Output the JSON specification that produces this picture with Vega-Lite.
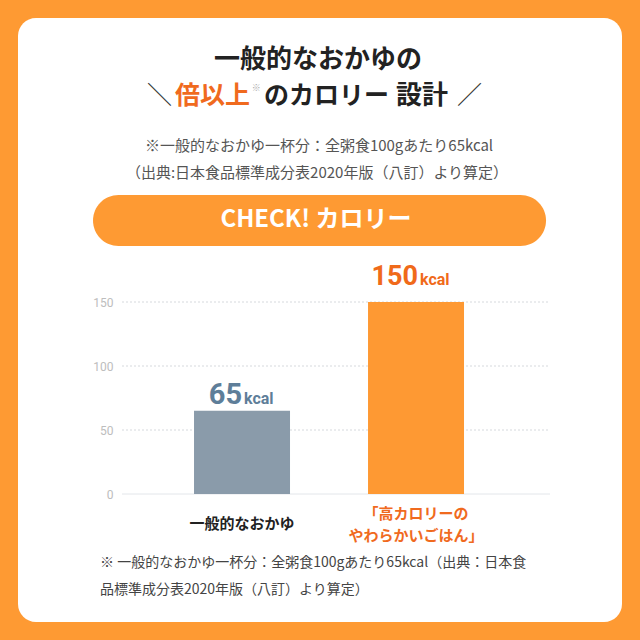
{
  "$schema": "https://vega.github.io/schema/vega-lite/v6.json",
  "width": 604,
  "height": 604,
  "autosize": {"type": "none"},
  "padding": {"left": 18, "top": 18, "right": 18, "bottom": 18},
  "background": "#FE9A33",
  "config": {
    "view": {"fill": "#FFFFFF", "stroke": null, "cornerRadius": 18},
    "font": "Noto Sans CJK JP"
  },
  "data": {"values": [
    {"name": "一般的なおかゆ", "kcal": 65, "num": "65"},
    {"name": "「高カロリーの|やわらかいごはん」", "kcal": 150, "num": "150"}
  ]},
  "resolve": {"scale": {"x": "independent", "y": "independent"}},
  "layer": [
    {
      "data": {"values": [{"v": 0}, {"v": 50}, {"v": 100}, {"v": 150}]},
      "mark": {"type": "rule", "strokeWidth": 1},
      "encoding": {
        "x": {"datum": 17.22, "type": "quantitative", "scale": {"domain": [0, 100], "nice": false, "zero": false}, "axis": null},
        "x2": {"datum": 88.08},
        "y": {"field": "v", "type": "quantitative", "scale": {"domain": [-100, 371.875], "nice": false, "zero": false}, "axis": null},
        "color": {"condition": {"test": "datum.v == 0", "value": "#E3E6EA"}, "value": "#D6D9DD"},
        "strokeDash": {"condition": {"test": "datum.v == 0", "value": [1, 0]}, "value": [2, 2]}
      }
    },
    {
      "mark": {"type": "bar"},
      "encoding": {
        "x": {"field": "name", "type": "nominal", "sort": null,
          "scale": {"type": "band", "domain": ["一般的なおかゆ", "「高カロリーの|やわらかいごはん」"], "paddingInner": 0.4483, "paddingOuter": 0.9598, "align": 0.527},
          "axis": {"orient": "bottom", "offset": -128, "domain": false, "ticks": false, "tickSize": 0, "labelBaseline": "middle", "labelLineHeight": 22, "labelExpr": "split(datum.label, '|')", "labelFont": "Noto Sans CJK JP", "labelFontWeight": "bold", "labelFontSize": 15, "labelAngle": 0, "labelLimit": 400, "labelOverlap": false, "title": null,
            "labelPadding": {"condition": {"test": "indexof(datum.value, '高カロリー') >= 0", "value": 19}, "value": 29},
            "labelColor": {"condition": {"test": "indexof(datum.value, '高カロリー') >= 0", "value": "#F06A1E"}, "value": "#222222"}}},
        "y": {"field": "kcal", "type": "quantitative",
          "scale": {"domain": [-100, 371.875], "nice": false, "zero": false},
          "axis": {"values": [0, 50, 100, 150], "offset": -104, "domain": false, "ticks": false, "tickSize": 0, "grid": false, "labelPadding": 9, "labelColor": "#BDBDBD", "labelFont": "Roboto", "labelFontSize": 12, "title": null}},
        "color": {"field": "name", "type": "nominal", "scale": {"domain": ["一般的なおかゆ", "「高カロリーの|やわらかいごはん」"], "range": ["#8A9BAA", "#FE9933"]}, "legend": null}
      }
    },
    {
      "transform": [{"filter": "datum.kcal == 65"}],
      "mark": {"type": "text", "align": "right", "baseline": "alphabetic", "dx": 0, "dy": -7, "font": "Roboto", "fontWeight": "bold", "fontSize": 29, "color": "#5E7E99"},
      "encoding": {
        "x": {"field": "name", "type": "nominal", "bandPosition": 0.5, "scale": {"type": "band", "domain": ["一般的なおかゆ", "「高カロリーの|やわらかいごはん」"], "paddingInner": 0.4483, "paddingOuter": 0.9598, "align": 0.527}, "axis": null},
        "y": {"field": "kcal", "type": "quantitative", "scale": {"domain": [-100, 371.875], "nice": false, "zero": false}, "axis": null},
        "text": {"field": "num"}
      }
    },
    {
      "transform": [{"filter": "datum.kcal == 65"}],
      "mark": {"type": "text", "text": "kcal", "align": "left", "baseline": "alphabetic", "dx": 2, "dy": -7, "font": "Roboto", "fontWeight": "bold", "fontSize": 16, "color": "#5E7E99"},
      "encoding": {
        "x": {"field": "name", "type": "nominal", "bandPosition": 0.5, "scale": {"type": "band", "domain": ["一般的なおかゆ", "「高カロリーの|やわらかいごはん」"], "paddingInner": 0.4483, "paddingOuter": 0.9598, "align": 0.527}, "axis": null},
        "y": {"field": "kcal", "type": "quantitative", "scale": {"domain": [-100, 371.875], "nice": false, "zero": false}, "axis": null}
      }
    },
    {
      "transform": [{"filter": "datum.kcal == 150"}],
      "mark": {"type": "text", "align": "right", "baseline": "alphabetic", "dx": 2, "dy": -17, "font": "Roboto", "fontWeight": "bold", "fontSize": 27, "color": "#F06A1A"},
      "encoding": {
        "x": {"field": "name", "type": "nominal", "bandPosition": 0.5, "scale": {"type": "band", "domain": ["一般的なおかゆ", "「高カロリーの|やわらかいごはん」"], "paddingInner": 0.4483, "paddingOuter": 0.9598, "align": 0.527}, "axis": null},
        "y": {"field": "kcal", "type": "quantitative", "scale": {"domain": [-100, 371.875], "nice": false, "zero": false}, "axis": null},
        "text": {"field": "num"}
      }
    },
    {
      "transform": [{"filter": "datum.kcal == 150"}],
      "mark": {"type": "text", "text": "kcal", "align": "left", "baseline": "alphabetic", "dx": 4, "dy": -17, "font": "Roboto", "fontWeight": "bold", "fontSize": 16, "color": "#F06A1A"},
      "encoding": {
        "x": {"field": "name", "type": "nominal", "bandPosition": 0.5, "scale": {"type": "band", "domain": ["一般的なおかゆ", "「高カロリーの|やわらかいごはん」"], "paddingInner": 0.4483, "paddingOuter": 0.9598, "align": 0.527}, "axis": null},
        "y": {"field": "kcal", "type": "quantitative", "scale": {"domain": [-100, 371.875], "nice": false, "zero": false}, "axis": null}
      }
    },
    {
      "data": {"values": [{}]},
      "mark": {"type": "rect", "cornerRadius": 25.5, "color": "#FE9A33"},
      "encoding": {
        "x": {"datum": 12.42, "type": "quantitative", "scale": {"domain": [0, 100], "nice": false, "zero": false}, "axis": null},
        "x2": {"datum": 87.42},
        "y": {"datum": 29.3, "type": "quantitative", "scale": {"domain": [0, 100], "nice": false, "zero": false, "reverse": true}, "axis": null},
        "y2": {"datum": 37.75}
      }
    },
    {
      "data": {"values": [{}]},
      "mark": {"type": "text", "text": "CHECK! カロリー", "align": "center", "baseline": "middle", "dx": -4, "fontWeight": "bold", "fontSize": 24, "color": "#FFFFFF"},
      "encoding": {
        "y": {"datum": 33.44, "type": "quantitative", "scale": {"domain": [0, 100], "nice": false, "zero": false, "reverse": true}, "axis": null}
      }
    },
    {
      "data": {"values": [{}]},
      "mark": {"type": "text", "text": "一般的なおかゆの", "align": "center", "baseline": "middle", "dx": -2, "fontWeight": "bold", "fontSize": 26, "color": "#222222"},
      "encoding": {
        "y": {"datum": 6.95, "type": "quantitative", "scale": {"domain": [0, 100], "nice": false, "zero": false, "reverse": true}, "axis": null}
      }
    },
    {
      "data": {"values": [{}]},
      "mark": {"type": "text", "text": "＼", "align": "right", "baseline": "middle", "fontSize": 25, "color": "#333333"},
      "encoding": {
        "x": {"datum": 25.5, "type": "quantitative", "scale": {"domain": [0, 100], "nice": false, "zero": false}, "axis": null},
        "y": {"datum": 12.91, "type": "quantitative", "scale": {"domain": [0, 100], "nice": false, "zero": false, "reverse": true}, "axis": null}
      }
    },
    {
      "data": {"values": [{}]},
      "mark": {"type": "text", "text": "倍以上", "align": "left", "baseline": "middle", "fontWeight": "bold", "fontSize": 25, "color": "#F06A1E"},
      "encoding": {
        "x": {"datum": 25.99, "type": "quantitative", "scale": {"domain": [0, 100], "nice": false, "zero": false}, "axis": null},
        "y": {"datum": 12.91, "type": "quantitative", "scale": {"domain": [0, 100], "nice": false, "zero": false, "reverse": true}, "axis": null}
      }
    },
    {
      "data": {"values": [{}]},
      "mark": {"type": "text", "text": "※", "align": "left", "baseline": "middle", "fontSize": 9, "color": "#AAAAAA"},
      "encoding": {
        "x": {"datum": 38.7, "type": "quantitative", "scale": {"domain": [0, 100], "nice": false, "zero": false}, "axis": null},
        "y": {"datum": 11.59, "type": "quantitative", "scale": {"domain": [0, 100], "nice": false, "zero": false, "reverse": true}, "axis": null}
      }
    },
    {
      "data": {"values": [{}]},
      "mark": {"type": "text", "text": "のカロリー", "align": "left", "baseline": "middle", "fontWeight": "bold", "fontSize": 25, "color": "#222222"},
      "encoding": {
        "x": {"datum": 40.73, "type": "quantitative", "scale": {"domain": [0, 100], "nice": false, "zero": false}, "axis": null},
        "y": {"datum": 12.91, "type": "quantitative", "scale": {"domain": [0, 100], "nice": false, "zero": false, "reverse": true}, "axis": null}
      }
    },
    {
      "data": {"values": [{}]},
      "mark": {"type": "text", "text": "設計", "align": "left", "baseline": "middle", "fontWeight": "bold", "fontSize": 26, "color": "#222222"},
      "encoding": {
        "x": {"datum": 62.6, "type": "quantitative", "scale": {"domain": [0, 100], "nice": false, "zero": false}, "axis": null},
        "y": {"datum": 12.91, "type": "quantitative", "scale": {"domain": [0, 100], "nice": false, "zero": false, "reverse": true}, "axis": null}
      }
    },
    {
      "data": {"values": [{}]},
      "mark": {"type": "text", "text": "／", "align": "right", "baseline": "middle", "fontSize": 25, "color": "#333333"},
      "encoding": {
        "x": {"datum": 76.82, "type": "quantitative", "scale": {"domain": [0, 100], "nice": false, "zero": false}, "axis": null},
        "y": {"datum": 12.91, "type": "quantitative", "scale": {"domain": [0, 100], "nice": false, "zero": false, "reverse": true}, "axis": null}
      }
    },
    {
      "data": {"values": [{}]},
      "mark": {"type": "text", "text": "※一般的なおかゆ一杯分：全粥食100gあたり65kcal", "align": "center", "baseline": "middle", "dx": -1, "fontSize": 15, "color": "#555555"},
      "encoding": {
        "y": {"datum": 21.19, "type": "quantitative", "scale": {"domain": [0, 100], "nice": false, "zero": false, "reverse": true}, "axis": null}
      }
    },
    {
      "data": {"values": [{}]},
      "mark": {"type": "text", "text": "（出典:日本食品標準成分表2020年版（八訂）より算定）", "align": "center", "baseline": "middle", "dx": -3, "fontSize": 15, "color": "#555555"},
      "encoding": {
        "y": {"datum": 25.66, "type": "quantitative", "scale": {"domain": [0, 100], "nice": false, "zero": false, "reverse": true}, "axis": null}
      }
    },
    {
      "data": {"values": [{}]},
      "mark": {"type": "text", "text": "※ 一般的なおかゆ一杯分：全粥食100gあたり65kcal（出典：日本食", "align": "left", "baseline": "middle", "fontSize": 14, "color": "#444444"},
      "encoding": {
        "x": {"datum": 13.58, "type": "quantitative", "scale": {"domain": [0, 100], "nice": false, "zero": false}, "axis": null},
        "y": {"datum": 90.23, "type": "quantitative", "scale": {"domain": [0, 100], "nice": false, "zero": false, "reverse": true}, "axis": null}
      }
    },
    {
      "data": {"values": [{}]},
      "mark": {"type": "text", "text": "品標準成分表2020年版（八訂）より算定）", "align": "left", "baseline": "middle", "fontSize": 14, "color": "#444444"},
      "encoding": {
        "x": {"datum": 13.58, "type": "quantitative", "scale": {"domain": [0, 100], "nice": false, "zero": false}, "axis": null},
        "y": {"datum": 94.7, "type": "quantitative", "scale": {"domain": [0, 100], "nice": false, "zero": false, "reverse": true}, "axis": null}
      }
    }
  ]
}
